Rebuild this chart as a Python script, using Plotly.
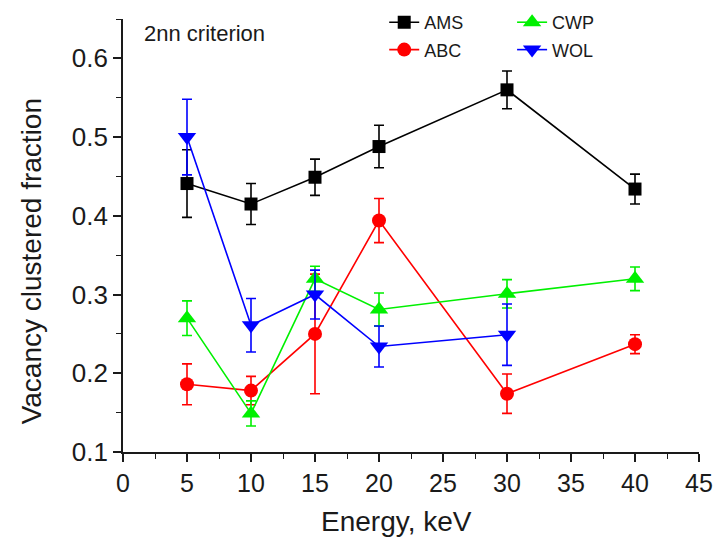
import plotly.graph_objects as go

energy = [5, 10, 15, 20, 30, 40]
energy_wol = [5, 10, 15, 20, 30]

ams = [0.441, 0.415, 0.449, 0.488, 0.560, 0.434]
ams_err = [0.043, 0.026, 0.023, 0.027, 0.024, 0.019]

abc = [0.186, 0.178, 0.250, 0.394, 0.174, 0.237]
abc_err = [0.026, 0.018, 0.076, 0.028, 0.025, 0.012]

cwp = [0.270, 0.149, 0.320, 0.281, 0.301, 0.320]
cwp_err = [0.022, 0.016, 0.016, 0.021, 0.018, 0.015]

wol = [0.500, 0.261, 0.300, 0.234, 0.249]
wol_err = [0.048, 0.034, 0.031, 0.026, 0.039]

x_ticks = [0, 5, 10, 15, 20, 25, 30, 35, 40, 45]
y_ticks = [0.1, 0.2, 0.3, 0.4, 0.5, 0.6]

FONT = "Liberation Sans, Arial, Helvetica, sans-serif"
TXT = "#1a1a1a"

series = [
    ("AMS", energy, ams, ams_err, "#000000", "square", 13, "legend", "g1"),
    ("ABC", energy, abc, abc_err, "#ff0000", "circle", 14, "legend", "g2"),
    ("CWP", energy, cwp, cwp_err, "#00f000", "triangle-up", 16, "legend2", "g3"),
    ("WOL", energy_wol, wol, wol_err, "#0000ff", "triangle-down", 16, "legend2", "g4"),
]

fig = go.Figure()
for name, xs, ys, es, col, sym, sz, leg, grp in series:
    fig.add_trace(go.Scatter(
        x=xs, y=ys, name=name, mode="lines+markers",
        line=dict(color=col, width=1.6),
        marker=dict(color=col, symbol=sym, size=sz, line=dict(width=0)),
        error_y=dict(type="data", array=es, visible=True, color=col,
                     thickness=1.6, width=5),
        legend=leg, legendgroup=grp,
    ))

W, H = 716, 539
L, R, T, B = 123, 17, 19, 87
PW, PH = W - L - R, H - T - B

fig.update_layout(
    width=W, height=H,
    margin=dict(l=L, r=R, t=T, b=B, autoexpand=False),
    paper_bgcolor="white", plot_bgcolor="white",
    font=dict(family=FONT, color=TXT),
    showlegend=True,
    legend=dict(x=0.4535, y=1.0346, xanchor="left", yanchor="top",
                bgcolor="rgba(0,0,0,0)", font=dict(size=18, family=FONT, color=TXT),
                tracegroupgap=1, traceorder="grouped", itemsizing="trace"),
    legend2=dict(x=0.6755, y=1.0346, xanchor="left", yanchor="top",
                 bgcolor="rgba(0,0,0,0)", font=dict(size=18, family=FONT, color=TXT),
                 tracegroupgap=1, traceorder="grouped", itemsizing="trace"),
    xaxis=dict(range=[0, 45], tickvals=x_ticks, ticktext=[str(v) for v in x_ticks],
               automargin=False,
               showgrid=False, zeroline=False, showline=True, linecolor=TXT,
               linewidth=1.6, ticks="outside", ticklen=8, tickwidth=1.6,
               tickcolor=TXT, tickfont=dict(size=25, family=FONT, color=TXT),
               minor=dict(ticks="outside", ticklen=5, tickwidth=1.4,
                          tickcolor=TXT, dtick=2.5, tick0=0),
               mirror=False),
    yaxis=dict(range=[0.1, 0.65], tickvals=y_ticks, ticktext=["%.1f" % v for v in y_ticks],
               automargin=False,
               showgrid=False, zeroline=False, showline=True, linecolor=TXT,
               linewidth=1.6, ticks="outside", ticklen=8, tickwidth=1.6,
               tickcolor=TXT, tickfont=dict(size=26, family=FONT, color=TXT),
               minor=dict(ticks="outside", ticklen=5, tickwidth=1.4,
                          tickcolor=TXT, dtick=0.05, tick0=0.1),
               mirror=False),
    annotations=[
        dict(text="2nn criterion", xref="x", yref="y", x=1.5, y=0.632,
             xanchor="left", yanchor="middle", showarrow=False,
             font=dict(size=22, family=FONT, color=TXT)),
        dict(text="Energy, keV", xref="paper", yref="paper",
             x=(396.5 - L) / PW, y=(451.7 - 521) / PH,
             xanchor="center", yanchor="middle", showarrow=False,
             font=dict(size=28, family=FONT, color=TXT)),
        dict(text="Vacancy clustered fraction", xref="paper", yref="paper",
             x=(31 - L) / PW, y=(451.7 - 261) / PH,
             xanchor="center", yanchor="middle", showarrow=False, textangle=-90,
             font=dict(size=28, family=FONT, color=TXT)),
    ],
)

fig.write_html(
    "out.html",
    config={"displayModeBar": False},
    post_script="document.body.style.margin='0';document.body.style.padding='0';",
)
